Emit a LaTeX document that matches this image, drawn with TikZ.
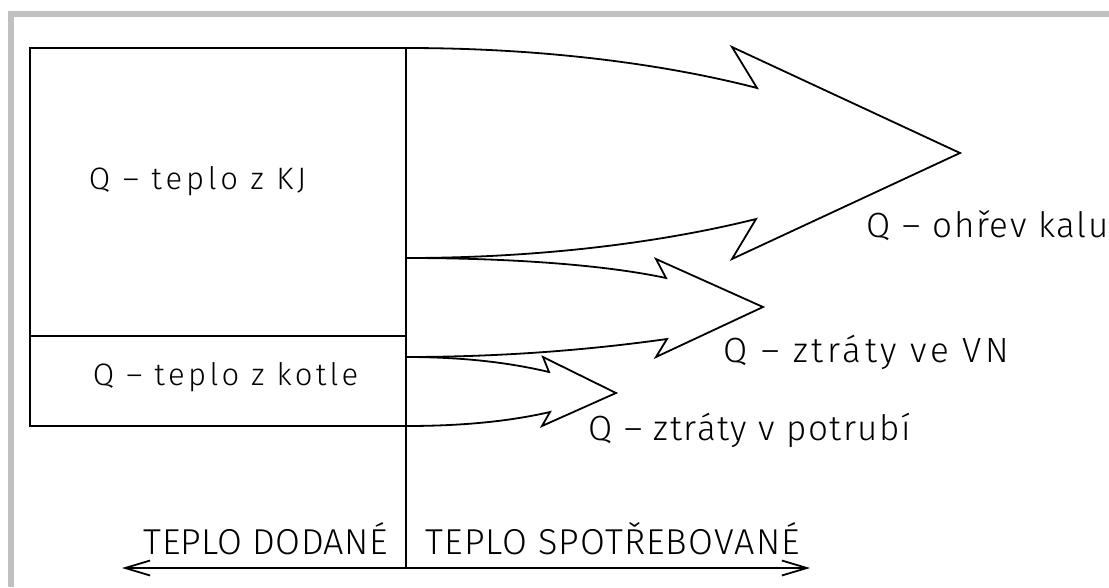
\documentclass[tikz,border=0pt]{standalone}
\usepackage{fontspec}
\setmainfont{Fira Sans Light}
\usetikzlibrary{arrows.meta}
\definecolor{framegray}{RGB}{192,192,192}
\begin{document}
\begin{tikzpicture}[x=1pt, y=-1pt, line width=1.8pt, line join=miter,
  lbl/.style={inner sep=0pt, anchor=base west},
  boxtxt/.style={lbl, font=\fontsize{31}{31}\selectfont},
  outtxt/.style={lbl, font=\fontsize{35}{35}\selectfont},
  axistxt/.style={lbl, font=\fontsize{36}{36}\selectfont},
  flow/.style={draw=black, line width=1.8pt},
  axis/.style={line width=1.8pt, {Straight Barb[length=25pt,width=15pt]}-{Straight Barb[length=25pt,width=15pt]}}]
\useasboundingbox (0,0) rectangle (1109,587);

% grey frame along the top and left edges
\fill[framegray] (8,11) rectangle (1109,17);
\fill[framegray] (8,11) rectangle (14,587);

% supplied heat block
\coordinate (tl) at (30,48);
\coordinate (tr) at (406,48);
\coordinate (ml) at (30,336);
\coordinate (mr) at (406,336);
\coordinate (bl) at (30,426);
\coordinate (br) at (406,426);
\coordinate (axtop) at (406,48);
\coordinate (axbot) at (406,568);
\coordinate (axleft) at (122,568);
\coordinate (axright) at (810,568);
\draw (tl) rectangle (br);
\draw (ml) -- (mr);
\draw (axtop) -- (axbot);
\draw[axis] (axleft) -- (axright);

% outgoing flows
\coordinate (a1) at (406,258);
\coordinate (a2) at (406,357);

% sludge heating
\coordinate (h1) at (757,88);
\coordinate (h2) at (732,47);
\coordinate (h3) at (960,153);
\coordinate (h4) at (732,259);
\coordinate (h5) at (756,219);
\draw[flow] (tr) .. controls (560,48) and (680,68) .. (h1) -- (h2) -- (h3) -- (h4) -- (h5)
  .. controls (680,238) and (560,258) .. (a1);

% losses in the digester
\coordinate (v1) at (666,278);
\coordinate (v2) at (656,259);
\coordinate (v3) at (763,307);
\coordinate (v4) at (656,357);
\coordinate (v5) at (667,339);
\draw[flow] (a1) .. controls (520,258) and (610,266) .. (v1) -- (v2) -- (v3) -- (v4) -- (v5)
  .. controls (610,347) and (520,357) .. (a2);

% losses in the piping
\coordinate (p1) at (549,372);
\coordinate (p2) at (543,357);
\coordinate (p3) at (616,393);
\coordinate (p4) at (542,426);
\coordinate (p5) at (550,412);
\draw[flow] (a2) .. controls (470,357) and (515,364) .. (p1) -- (p2) -- (p3) -- (p4) -- (p5)
  .. controls (515,420) and (470,426) .. (br);

% labels
\node[boxtxt] (kj) at (88,189) {\addfontfeatures{LetterSpace=12.5}Q – teplo z KJ};
\node[boxtxt] (kotel) at (92,385) {\addfontfeatures{LetterSpace=11}Q – teplo z kotle};
\node[outtxt] (kal) at (866,237) {\addfontfeatures{LetterSpace=5}Q – ohřev kalu};
\node[outtxt] (vn) at (723,362) {\addfontfeatures{LetterSpace=10.5}Q – ztráty ve VN};
\node[outtxt] (potr) at (588,440) {\addfontfeatures{LetterSpace=4.5}Q – ztráty v potrubí};
\node[axistxt] (dod) at (143,554) {\addfontfeatures{LetterSpace=1}TEPLO DODANÉ};
\node[axistxt] (spot) at (425,554) {\addfontfeatures{LetterSpace=3}TEPLO SPOTŘEBOVANÉ};
\end{tikzpicture}
\end{document}
